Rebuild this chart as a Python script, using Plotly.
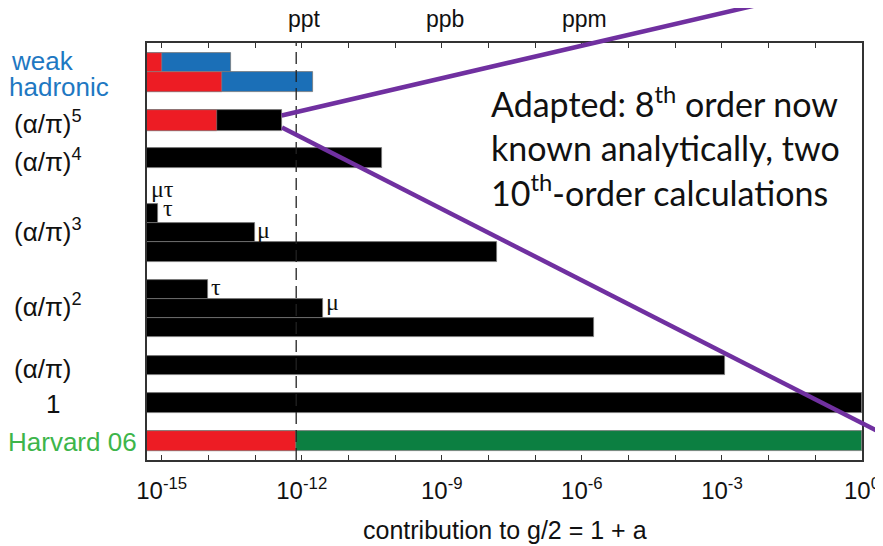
import plotly.graph_objects as go

# ---------------- data ----------------
# rows of the chart, top to bottom
row_names = ["weak", "hadronic", "(α/π)^5", "(α/π)^4",
             "(α/π)^3 τ", "(α/π)^3 μ", "(α/π)^3 e",
             "(α/π)^2 τ", "(α/π)^2 μ", "(α/π)^2 e",
             "(α/π)", "1", "Harvard 06"]
# full length of each row (blue / black / green part)
total_values = [3.05e-14, 1.75e-12, 3.7e-13, 5.2e-11,
                8.5e-16, 1.0e-13, 1.5e-8,
                1.0e-14, 2.9e-12, 1.78e-6,
                1.16e-3, 1.0, 1.0]
# red part (uncertainty) of each row, None where absent
red_values = [1.0e-15, 2.0e-14, 1.55e-14, None,
              None, None, None,
              None, None, None,
              None, None, 7.6e-13]
harvard_uncertainty = 7.6e-13

decade_exponents = list(range(-15, 1))
labeled_exponents = [-15, -12, -9, -6, -3, 0]
top_labels = {-12: "ppt", -9: "ppb", -6: "ppm"}

# ---------------- styles / layout ----------------
# the page body adds an 8px margin, so the figure is 8px smaller
PAGE_OFF = 8
W, H = 883 - PAGE_OFF, 546 - PAGE_OFF
PX0, PX1, PY0, PY1 = 147, 862, 43, 460      # plot area in window pixels
L = PX0 - PAGE_OFF
T = PY0 - PAGE_OFF
R = W - (PX1 - PAGE_OFF)
B = H - (PY1 - PAGE_OFF)

BLACK = "#000000"
RED = "#ED1C24"
BLUE = "#1B6FB7"
GREEN = "#0C7F41"
LBLUE = "#1E78C2"
LGREEN = "#3DB54A"
PURPLE = "#7030A0"

# row geometry in pixel units of the (reversed) y axis: centre, thickness
row_center = [62.2, 81.7, 120.0, 157.5,
              213.8, 232.6, 251.7,
              289.5, 308.5, 327.3,
              365.3, 403.3, 441.0]
row_thick = [19, 20, 21, 20,
             19, 18.6, 20,
             19, 19, 19,
             19.5, 20, 20]
row_color = [BLUE, BLUE, BLACK, BLACK,
             BLACK, BLACK, BLACK,
             BLACK, BLACK, BLACK,
             BLACK, BLACK, GREEN]

BASE = 1e-17
fig = go.Figure()

# long parts
for c in [BLUE, BLACK, GREEN]:
    idx = [i for i in range(len(total_values)) if row_color[i] == c]
    fig.add_trace(go.Bar(
        orientation="h",
        y=[row_center[i] for i in idx],
        x=[total_values[i] - BASE for i in idx],
        base=BASE,
        width=[row_thick[i] for i in idx],
        marker=dict(color=c, line=dict(color="#777777", width=0.8)),
        showlegend=False, hoverinfo="skip"))

# red parts
idx = [i for i in range(len(red_values)) if red_values[i] is not None]
fig.add_trace(go.Bar(
    orientation="h",
    y=[row_center[i] for i in idx],
    x=[red_values[i] - BASE for i in idx],
    base=BASE,
    width=[row_thick[i] for i in idx],
    marker=dict(color=RED, line=dict(color="#888888", width=0.6)),
    showlegend=False, hoverinfo="skip"))

# ---------------- axes ----------------
xmin_log = -15 - (161.7 - PX0) / 46.67
tickvals = [10.0 ** e for e in decade_exponents]
ticktext = [("10<sup>%d</sup>" % e) if e in labeled_exponents else "" for e in decade_exponents]

fig.update_xaxes(
    type="log", range=[xmin_log, 0], automargin=False,
    tickvals=tickvals, ticktext=ticktext,
    ticks="inside", ticklen=5, tickwidth=1.2, tickcolor="#333333",
    showline=True, linecolor="#333333", linewidth=1.6, mirror="ticks",
    showgrid=False, zeroline=False,
    tickfont=dict(family="Liberation Sans", size=24, color="#111111"),
    ticklabelstandoff=8,
)
fig.update_yaxes(
    range=[PY1, PY0], showticklabels=False, ticks="", automargin=False,
    showline=True, linecolor="#333333", linewidth=1.6, mirror=True,
    showgrid=False, zeroline=False,
)


def px_to_paper_x(px):
    return (px - PX0) / (PX1 - PX0)


def px_to_paper_y(py):
    return (PY1 - py) / (PY1 - PY0)


annotations = []
# row labels on the left
left_labels = [
    ("weak", 9, 61, LBLUE, "left"),
    ("hadronic", 7, 87, LBLUE, "left"),
    ("(α/π)<sup>5</sup>", 12, 122, "#111111", "left"),
    ("(α/π)<sup>4</sup>", 12, 160, "#111111", "left"),
    ("(α/π)<sup>3</sup>", 12, 230, "#111111", "left"),
    ("(α/π)<sup>2</sup>", 12, 305, "#111111", "left"),
    ("(α/π)", 12, 369, "#111111", "left"),
    ("1", 53, 404, "#111111", "center"),
    ("Harvard 06", 6, 442, LGREEN, "left"),
]
for text, px, py, col, anc in left_labels:
    annotations.append(dict(
        text=text, xref="paper", yref="paper",
        x=px_to_paper_x(px), y=px_to_paper_y(py),
        xanchor=anc, yanchor="middle", showarrow=False,
        font=dict(family="Liberation Sans", size=26, color=col)))

# small lepton labels
lepton_labels = [("μτ", 149, 189), ("τ", 161, 208), ("μ", 255, 230),
                 ("τ", 209, 287), ("μ", 324, 302)]
for text, px, py in lepton_labels:
    annotations.append(dict(
        text=text, xref="paper", yref="paper",
        x=px_to_paper_x(px), y=px_to_paper_y(py),
        xanchor="left", yanchor="middle", showarrow=False,
        font=dict(family="Liberation Serif", size=24, color="#111111")))

# ppt / ppb / ppm on top
for e, t in top_labels.items():
    annotations.append(dict(
        text=t, xref="x", yref="paper", x=e, y=1,
        xanchor="center", yanchor="bottom", yshift=9, xshift=3,
        showarrow=False,
        font=dict(family="Liberation Sans", size=23, color="#111111")))

# axis title
annotations.append(dict(
    text="contribution to g/2 = 1 + a", xref="paper", yref="paper",
    x=0.5, y=px_to_paper_y(530), xanchor="center", yanchor="middle",
    showarrow=False, font=dict(family="Liberation Sans", size=25, color="#111111")))

# note box text
annotations.append(dict(
    text="Adapted: 8<sup>th</sup> order now<br>known analytically, two<br>10<sup>th</sup>-order calculations",
    xref="paper", yref="paper", x=px_to_paper_x(489), y=px_to_paper_y(78),
    xanchor="left", yanchor="top", align="left", showarrow=False,
    font=dict(family="Lato", size=34, color="#111111")))

shapes = [
    # dashed line at the Harvard 06 uncertainty
    dict(type="line", xref="x", yref="paper",
         x0=harvard_uncertainty, x1=harvard_uncertainty, y0=0, y1=1,
         line=dict(color="#222222", width=1.3, dash="12px,6px"), layer="above"),
    # purple callout lines
    dict(type="line", xref="paper", yref="paper",
         x0=px_to_paper_x(281.7), y0=px_to_paper_y(115.5),
         x1=px_to_paper_x(800), y1=px_to_paper_y(-5),
         line=dict(color=PURPLE, width=4.5), layer="above"),
    dict(type="line", xref="paper", yref="paper",
         x0=px_to_paper_x(282), y0=px_to_paper_y(127.5),
         x1=px_to_paper_x(900), y1=px_to_paper_y(442.5),
         line=dict(color=PURPLE, width=4.5), layer="above"),
]

fig.update_layout(
    width=W, height=H,
    margin=dict(l=L, r=R, t=T, b=B, autoexpand=False),
    barmode="overlay", bargap=0,
    plot_bgcolor="white", paper_bgcolor="white",
    annotations=annotations, shapes=shapes,
    showlegend=False,
)

fig.write_html("out.html")
